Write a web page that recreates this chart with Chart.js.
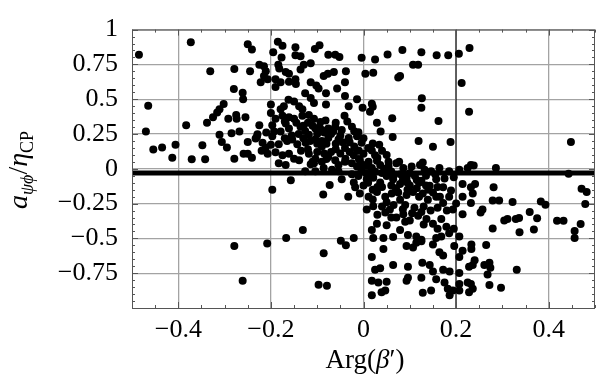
<!DOCTYPE html>
<html>
<head>
<meta charset="utf-8">
<script src="https://cdn.jsdelivr.net/npm/chart.js@4.4.0/dist/chart.umd.min.js"></script>
<style>
  html, body { margin: 0; padding: 0; background: #fff; }
  canvas { display: block; }
</style>
</head>
<body>
<canvas id="plot" width="599" height="382"></canvas>
<script>
// axis setup
const xRange = [-0.5, 0.5];
const yRange = [-1, 1];
const xTicks = [-0.4, -0.2, 0, 0.2, 0.4];
const yTicks = [-0.75, -0.5, -0.25, 0, 0.25, 0.5, 0.75, 1];
const cutY = -0.03; // thick horizontal line
const cutX = 0.2;   // thin vertical line

// scan points, [Arg(beta'), a / eta_CP]
const upperLeft = [
  [-0.373, 0.91], [-0.485, 0.82], [-0.331, 0.70], [-0.279, 0.717], [-0.28, 0.573], [-0.261, 0.546],
  [-0.26, 0.50], [-0.465, 0.453], [-0.302, 0.466], [-0.311, 0.427], [-0.316, 0.405], [-0.325, 0.37],
  [-0.338, 0.33], [-0.383, 0.313], [-0.292, 0.359], [-0.275, 0.386], [-0.274, 0.359], [-0.47, 0.268],
  [-0.311, 0.245], [-0.306, 0.192], [-0.295, 0.153], [-0.285, 0.256], [-0.268, 0.268], [-0.454, 0.138],
  [-0.435, 0.153], [-0.406, 0.172], [-0.348, 0.169], [-0.413, 0.08], [-0.371, 0.069], [-0.342, 0.069],
  [-0.279, 0.073], [-0.259, 0.108]
];

const upperMid = [
  [-0.25, 0.895], [-0.241, 0.857], [-0.185, 0.912], [-0.175, 0.884], [-0.195, 0.838], [-0.147, 0.873],
  [-0.177, 0.80], [-0.147, 0.816], [-0.136, 0.809], [-0.105, 0.861], [-0.095, 0.888], [-0.076, 0.82],
  [-0.061, 0.82], [-0.052, 0.804], [-0.225, 0.747], [-0.215, 0.736], [-0.245, 0.70], [-0.184, 0.747],
  [-0.182, 0.72], [-0.211, 0.70], [-0.215, 0.667], [-0.207, 0.644], [-0.168, 0.695], [-0.161, 0.683],
  [-0.129, 0.747], [-0.114, 0.758], [-0.136, 0.713], [-0.222, 0.621], [-0.19, 0.644], [-0.179, 0.621],
  [-0.19, 0.587], [-0.161, 0.626], [-0.147, 0.644], [-0.146, 0.61], [-0.114, 0.621], [-0.102, 0.599],
  [-0.097, 0.576], [-0.086, 0.667], [-0.077, 0.683], [-0.064, 0.695], [-0.038, 0.70], [-0.04, 0.621],
  [-0.057, 0.576], [-0.20, 0.462], [-0.20, 0.40], [-0.126, 0.542], [-0.114, 0.508], [-0.107, 0.473],
  [-0.081, 0.542], [-0.081, 0.462], [-0.04, 0.523], [-0.014, 0.50], [-0.162, 0.496], [-0.15, 0.484],
  [-0.172, 0.45], [-0.179, 0.427], [-0.139, 0.45], [-0.132, 0.427], [-0.032, 0.45], [-0.255, 0.37],
  [-0.175, 0.381], [-0.161, 0.37], [-0.15, 0.359], [-0.132, 0.381], [-0.118, 0.386], [-0.107, 0.359],
  [-0.093, 0.336], [-0.082, 0.347], [-0.041, 0.381], [-0.225, 0.313], [-0.229, 0.249], [-0.233, 0.217],
  [-0.197, 0.313], [-0.193, 0.268], [-0.197, 0.233], [-0.168, 0.325], [-0.161, 0.29], [-0.179, 0.268],
  [-0.136, 0.302], [-0.126, 0.272], [-0.118, 0.245], [-0.104, 0.29], [-0.09, 0.279], [-0.076, 0.29],
  [-0.061, 0.302], [-0.047, 0.279], [-0.025, 0.302], [-0.25, 0.192], [-0.218, 0.188], [-0.211, 0.153],
  [-0.20, 0.172], [-0.183, 0.176], [-0.165, 0.199], [-0.154, 0.21], [-0.143, 0.176], [-0.125, 0.188],
  [-0.104, 0.21], [-0.09, 0.199], [-0.076, 0.222], [-0.054, 0.21], [-0.032, 0.222], [-0.014, 0.233],
  [-0.25, 0.108], [-0.241, 0.08], [-0.207, 0.108], [-0.19, 0.119], [-0.175, 0.097], [-0.161, 0.108],
  [-0.15, 0.073], [-0.139, 0.062], [-0.118, 0.108], [-0.104, 0.073], [-0.09, 0.051], [-0.076, 0.085],
  [-0.061, 0.062], [-0.039, 0.073], [-0.021, 0.097], [-0.183, 0.039], [-0.168, 0.028], [-0.107, 0.039],
  [-0.054, 0.028]
];

const upperRight = [
  [-0.004, 0.797], [0.025, 0.786], [0.052, 0.822], [0.084, 0.854], [0.125, 0.838], [0.158, 0.816],
  [0.183, 0.816], [0.206, 0.827], [0.229, 0.868], [0.004, 0.683], [0.021, 0.69], [0.107, 0.747],
  [0.118, 0.747], [0.079, 0.667], [0.075, 0.655], [0.212, 0.617], [-0.002, 0.439], [0.018, 0.468],
  [0.02, 0.446], [0.014, 0.409], [0.126, 0.507], [0.125, 0.439], [0.228, 0.409], [0.062, 0.364],
  [0.029, 0.331], [0.037, 0.268], [0.162, 0.343], [-0.011, 0.262], [0.063, 0.229], [0.119, 0.199],
  [0.15, 0.158], [0.188, 0.192], [-0.004, 0.188], [0.02, 0.181], [0.034, 0.172], [-0.014, 0.131],
  [0, 0.108], [0.018, 0.131], [0.025, 0.097], [-0.008, 0.062], [0.011, 0.051], [0.029, 0.058],
  [0.054, 0.051], [0.077, 0.051], [0.128, 0.046], [0.122, 0.028], [0.232, 0.028], [0.448, 0.192],
  [0.238, 0.023], [0.286, 0.005]
];

const lowerLeft = [
  [-0.279, -0.554], [-0.261, -0.805], [-0.197, -0.15], [-0.157, -0.082], [-0.131, -0.44], [-0.167, -0.497],
  [-0.208, -0.536], [-0.086, -0.607], [-0.049, -0.516], [-0.038, -0.55], [-0.021, -0.497], [-0.097, -0.833],
  [-0.079, -0.84], [-0.087, -0.184], [-0.073, -0.116], [-0.033, -0.20], [-0.114, 0.032], [-0.126, -0.018],
  [-0.104, -0.018], [-0.086, 0.005], [-0.068, -0.006], [-0.054, -0.018], [-0.047, -0.075], [-0.025, -0.04],
  [-0.021, -0.098], [-0.018, -0.132]
];

const core = [
  [-0.014, 0.016], [0, 0.028], [0.018, 0.005], [0.036, 0.028], [0.054, 0.016], [0.071, 0.039],
  [0.086, 0.005], [0.104, 0.016], [0.132, -0.006], [0.146, -0.018], [0.164, 0.005], [0.185, -0.018],
  [0.207, -0.006], [0.225, 0.005], [-0.011, -0.052], [0.007, -0.075], [0.021, -0.064], [0.036, -0.098],
  [0.05, -0.052], [0.064, -0.075], [0.079, -0.109], [0.093, -0.064], [0.111, -0.052], [0.125, -0.086],
  [0.143, -0.121], [0.157, -0.075], [0.172, -0.132], [0.189, -0.155], [0.214, -0.109], [0.232, -0.132],
  [-0.008, -0.177], [0.011, -0.20], [0.029, -0.166], [0.047, -0.20], [0.061, -0.177], [0.079, -0.223],
  [0.093, -0.189], [0.107, -0.166], [0.128, -0.177], [0.139, -0.223], [0.157, -0.20], [0.172, -0.246],
  [0.193, -0.292], [0.214, -0.20], [0.214, -0.326], [0.007, -0.292], [0.021, -0.269], [0.047, -0.314],
  [0.057, -0.292], [0.071, -0.349], [0.086, -0.326], [0.10, -0.372], [0.118, -0.338], [0.136, -0.36],
  [0.15, -0.395], [0.168, -0.36], [0.179, -0.417], [0.018, -0.44], [0.029, -0.395], [0.05, -0.406],
  [0.079, -0.44], [0.096, -0.475], [0.114, -0.486], [0.125, -0.509], [0.157, -0.497], [0.168, -0.486],
  [0.185, -0.463], [0.207, -0.486], [0.021, -0.497], [0.043, -0.497], [0.043, -0.577], [0.064, -0.49],
  [0.093, -0.554], [0.107, -0.566], [0.114, -0.532], [0.125, -0.52], [0.15, -0.543], [0.164, -0.60],
  [0.172, -0.623], [0.196, -0.554], [0.214, -0.588], [0.207, -0.634], [0.018, -0.634], [0.064, -0.691],
  [0.096, -0.703], [0.127, -0.675], [0.143, -0.691], [0.15, -0.737], [0.172, -0.725], [0.186, -0.737],
  [0.207, -0.749], [0.025, -0.725], [0.036, -0.714], [0.018, -0.805], [0.05, -0.812], [0.032, -0.817],
  [0.096, -0.783], [0.093, -0.805], [0.125, -0.783], [0.157, -0.794], [0.175, -0.817], [0.047, -0.874],
  [0.039, -0.886], [0.018, -0.908], [0.128, -0.89], [0.146, -0.874], [0.182, -0.862], [0.193, -0.874],
  [0.207, -0.828], [0.225, -0.817], [0.186, -0.908], [0.207, -0.874]
];

const rightTail = [
  [0.443, -0.036], [0.241, -0.109], [0.236, -0.177], [0.232, -0.246], [0.257, -0.292], [0.253, -0.314],
  [0.281, -0.132], [0.279, -0.228], [0.293, -0.228], [0.322, -0.239], [0.279, -0.429], [0.304, -0.372],
  [0.311, -0.36], [0.329, -0.36], [0.336, -0.353], [0.337, -0.456], [0.359, -0.31], [0.375, -0.355],
  [0.368, -0.436], [0.383, -0.235], [0.393, -0.258], [0.418, -0.374], [0.432, -0.374], [0.456, -0.447],
  [0.456, -0.497], [0.469, -0.397], [0.471, -0.143], [0.482, -0.166], [0.479, -0.253], [0.233, -0.543],
  [0.233, -0.577], [0.265, -0.547], [0.24, -0.657], [0.236, -0.691], [0.228, -0.703], [0.261, -0.691],
  [0.272, -0.675], [0.274, -0.71], [0.268, -0.76], [0.331, -0.725], [0.232, -0.828], [0.236, -0.862],
  [0.228, -0.886], [0.272, -0.835], [0.297, -0.855]
];

// points hidden inside the dense band
const denseBand = [
  [-0.12, 0.33], [-0.1, 0.25], [-0.07, 0.25], [-0.05, 0.24], [-0.04, 0.15], [-0.02, 0.16],
  [-0.06, 0.14], [-0.09, 0.16], [-0.01, 0.07], [0.01, 0.02], [0.03, 0.08], [0.05, 0.1],
  [0.04, -0.03], [0.06, -0.02], [0.08, -0.04], [0.1, -0.03], [0.12, -0.1], [0.1, -0.12],
  [0.07, -0.14], [0.03, -0.13], [0.0, -0.12], [0.12, -0.2], [0.14, -0.15], [0.16, -0.13],
  [0.09, -0.26], [0.11, -0.28], [0.13, -0.27], [0.05, -0.24], [0.02, -0.22], [-0.03, 0.19],
  [-0.08, 0.07], [-0.11, 0.05]
];

const denseCore = [
  [0.005, -0.03], [0.025, -0.02], [0.045, 0.0], [0.065, -0.05], [0.085, -0.08], [0.095, -0.1],
  [0.115, -0.08], [0.135, -0.05], [0.155, -0.04], [0.175, -0.07], [0.195, -0.06], [0.01, -0.1],
  [0.02, -0.15], [0.04, -0.13], [0.06, -0.12], [0.075, -0.17], [0.095, -0.15], [0.115, -0.14],
  [0.135, -0.12], [0.15, -0.17], [0.165, -0.2], [0.185, -0.2], [0.2, -0.25], [0.18, -0.3],
  [0.16, -0.28], [0.145, -0.3], [0.125, -0.31], [0.105, -0.32], [0.085, -0.29], [0.065, -0.26],
  [0.04, -0.27], [0.03, -0.33], [0.06, -0.35], [0.09, -0.38], [0.13, -0.4], [0.16, -0.43],
  [0.195, -0.43]
];

const denseUpper = [
  [-0.19, 0.36], [-0.17, 0.34], [-0.145, 0.33], [-0.13, 0.31], [-0.11, 0.31], [-0.095, 0.3],
  [-0.085, 0.26], [-0.065, 0.27], [-0.14, 0.25], [-0.155, 0.24], [-0.17, 0.22], [-0.13, 0.22],
  [-0.115, 0.2], [-0.1, 0.18], [-0.08, 0.18], [-0.06, 0.18], [-0.045, 0.19], [-0.07, 0.12],
  [-0.05, 0.11], [-0.03, 0.12], [-0.01, 0.13], [-0.04, 0.05], [-0.025, 0.04], [-0.135, 0.13],
  [-0.12, 0.14], [-0.1, 0.12], [-0.085, 0.11], [-0.22, 0.13], [-0.23, 0.23], [-0.21, 0.26],
  [-0.035, 0.34], [-0.06, 0.33], [-0.02, 0.27], [0.0, 0.22], [0.01, 0.15], [0.04, 0.13],
  [-0.005, 0.0], [0.015, -0.04]
];

const scanPoints = [
  ...upperLeft, ...upperMid, ...upperRight, ...lowerLeft, ...core, ...rightTail,
  ...denseBand, ...denseCore, ...denseUpper
].map(([x, y]) => ({ x, y }));

const serif = '"Liberation Serif", "Times New Roman", serif';
const fmt = (v) => (v < 0 ? "\u2212" + Math.abs(v) : String(v));

// draw runs of text with mixed fonts, centred on cx
function drawRuns(ctx, runs, cx, baseY) {
  let total = 0;
  runs.forEach((r) => { ctx.font = r.font; total += ctx.measureText(r.text).width; });
  let x = cx - total / 2;
  runs.forEach((r) => {
    ctx.font = r.font;
    ctx.fillText(r.text, x, baseY + (r.dy || 0));
    x += ctx.measureText(r.text).width;
  });
}

const frameTicks = {
  id: "frameTicks",
  afterDraw(chart) {
    const { ctx, chartArea: a, scales } = chart;
    const sx = scales.x, sy = scales.y;
    ctx.save();
    ctx.strokeStyle = "#555";
    ctx.lineWidth = 1;
    ctx.strokeRect(a.left + 0.5, a.top + 0.5, a.right - a.left - 1, a.bottom - a.top);
    ctx.beginPath();
    for (let i = -10; i <= 10; i++) {
      const px = Math.round(sx.getPixelForValue(i * 0.05)) + 0.5;
      const len = i % 4 === 0 ? 6 : 3;
      ctx.moveTo(px, a.bottom); ctx.lineTo(px, a.bottom - len);
      ctx.moveTo(px, a.top); ctx.lineTo(px, a.top + len);
    }
    for (let i = -20; i <= 20; i++) {
      const py = Math.round(sy.getPixelForValue(i * 0.05)) + 0.5;
      const len = i % 5 === 0 ? 6 : 3;
      ctx.moveTo(a.left, py); ctx.lineTo(a.left + len, py);
      ctx.moveTo(a.right, py); ctx.lineTo(a.right - len, py);
    }
    ctx.stroke();
    ctx.restore();
  }
};

const axisTitles = {
  id: "axisTitles",
  afterDraw(chart) {
    const ctx = chart.ctx;
    ctx.save();
    ctx.fillStyle = "#000";
    ctx.textBaseline = "alphabetic";
    drawRuns(ctx, [
      { text: "Arg(", font: `27px ${serif}` },
      { text: "\u03B2", font: `italic 27px ${serif}` },
      { text: "\u2032)", font: `27px ${serif}` }
    ], 365, 368);
    ctx.translate(27, 170);
    ctx.rotate(-Math.PI / 2);
    drawRuns(ctx, [
      { text: "a", font: `italic 28px ${serif}` },
      { text: "\u03C8\u03D5", font: `italic 18px ${serif}`, dy: 6 },
      { text: "/", font: `28px ${serif}` },
      { text: "\u03B7", font: `italic 28px ${serif}` },
      { text: "CP", font: `18px ${serif}`, dy: 6 }
    ], 0, 0);
    ctx.restore();
  }
};

new Chart(document.getElementById("plot"), {
  type: "scatter",
  data: {
    datasets: [
      {
        data: scanPoints,
        pointRadius: 4,
        pointBackgroundColor: "#000",
        pointBorderWidth: 0,
        order: 1
      },
      {
        data: [{ x: xRange[0], y: cutY }, { x: xRange[1], y: cutY }],
        showLine: true,
        borderColor: "#000",
        borderWidth: 5,
        pointRadius: 0,
        order: 2
      },
      {
        data: [{ x: cutX, y: yRange[0] }, { x: cutX, y: yRange[1] }],
        showLine: true,
        borderColor: "#000",
        borderWidth: 1,
        pointRadius: 0,
        order: 3
      }
    ]
  },
  options: {
    responsive: false,
    animation: false,
    devicePixelRatio: 1,
    layout: { padding: { top: 16, right: 0, left: 0, bottom: 0 } },
    plugins: { legend: { display: false }, tooltip: { enabled: false } },
    scales: {
      x: {
        type: "linear",
        min: xRange[0],
        max: xRange[1],
        afterBuildTicks: (s) => { s.ticks = xTicks.map((v) => ({ value: v })); },
        afterFit: (s) => { s.height = 74; },
        grid: { color: "#a3a3a3", lineWidth: 1.3, drawTicks: false },
        border: { display: false },
        ticks: { padding: 7, color: "#000", font: { family: serif, size: 26 }, callback: fmt, maxRotation: 0 }
      },
      y: {
        type: "linear",
        min: yRange[0],
        max: yRange[1],
        afterBuildTicks: (s) => { s.ticks = yTicks.map((v) => ({ value: v })); },
        afterFit: (s) => { s.width = 132; },
        grid: { color: "#a3a3a3", lineWidth: 1.3, drawTicks: false },
        border: { display: false },
        ticks: { padding: 14, color: "#000", font: { family: serif, size: 26 }, callback: fmt }
      }
    }
  },
  plugins: [frameTicks, axisTitles]
});
</script>
</body>
</html>
